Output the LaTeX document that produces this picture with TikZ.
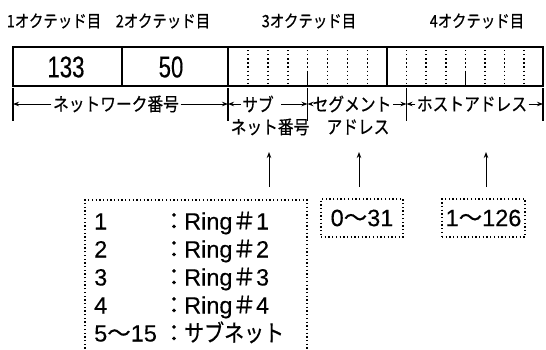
\documentclass[tikz,border=0pt]{standalone}
\usepackage{fontspec}
\setmainfont[FakeBold=0.3]{Liberation Sans}
\newfontfamily\jp[FakeStretch=0.85,FakeBold=0.5]{Noto Sans CJK JP}
\newfontfamily\cj[FakeBold=0.5]{Noto Sans CJK JP}
\newfontfamily\cond[FakeStretch=0.74,FakeBold=0.3]{Liberation Sans}
\usetikzlibrary{arrows.meta}
\begin{document}
\begin{tikzpicture}[x=1pt,y=-1pt,
  oct/.style={font=\jp\fontsize{17}{17}\selectfont, inner sep=0pt},
  num/.style={font=\cond\fontsize{30}{30}\selectfont, inner sep=0pt},
  lab/.style={font=\jp\fontsize{18.5}{18.5}\selectfont, inner sep=1.5pt},
  lt/.style={font=\fontsize{23.5}{23.5}\selectfont, inner sep=0pt},
  ljp/.style={font=\jp\fontsize{23.5}{23.5}\selectfont, inner sep=0pt},
  tip/.style={-{Stealth[length=6pt,width=4.5pt]}, line width=0.9pt},
  frame/.style={line width=1.7pt},
  tick/.style={line width=1.1pt},
  bit/.style={line width=1.3pt, dash pattern=on 1.3pt off 2.8pt},
  dotline/.style={line width=1.3pt, dash pattern=on 1.3pt off 2.4pt},
  dbox/.style={draw, dotline, font=\fontsize{23.5}{23.5}\selectfont, inner sep=0pt}
]
\useasboundingbox (0,0) rectangle (546,349);
% octet headings
\node[oct] (o1) at (54,21) {1オクテッド目};
\node[oct] (o2) at (163,21) {2オクテッド目};
\node[oct] (o3) at (309,21) {3オクテッド目};
\node[oct] (o4) at (477,21) {4オクテッド目};
% address box
\draw[frame] (13,47) rectangle (543,86);
\foreach \x in {122,228,387} \draw[frame] (\x,47) -- (\x,86);
\foreach \x in {248,268,288,327.5,347.5,367.5,406.5,426,446,485,504.5,524} \draw[bit] (\x,50) -- (\x,84);
\foreach \x in {307.5,465.5} {\draw[bit] (\x,50) -- (\x,72); \draw[tick] (\x,72) -- (\x,86);}
\node[num] (n1) at (66,67) {133};
\node[num] (n2) at (171,67) {50};
% ticks below
\foreach \x/\n in {13/a,228/b,307.5/c,406.5/d,543/e} {
  \coordinate (t\n) at (\x,104);
  \draw[tick] (\x,88) -- (\x,121);
}
\node[lab] (net) at (116,104) {ネットワーク番号};
\draw[tip] (net.west) -- (ta);
\draw[tip] (net.east) -- (tb);
\node[lab] (sub1) at (258,104) {サブ};
\draw[tip] (sub1.west) -- (tb);
\draw[tip] ([xshift=6pt]sub1.east) -- (tc);
\node[lab] (sub2) at (270,127) {ネット番号};
\node[lab] (seg1) at (352,104) {セグメント};
\draw[tip] (seg1.west) -- (tc);
\draw[tip] (seg1.east) -- (td);
\node[lab] (seg2) at (358,127) {アドレス};
\node[lab] (host) at (472,104) {ホストアドレス};
\draw[tip] (host.west) -- (td);
\draw[tip] (host.east) -- (te);
% upward arrows
\coordinate (u1s) at (269,187); \coordinate (u1e) at (269,152);
\coordinate (u2s) at (359,187); \coordinate (u2e) at (359,152);
\coordinate (u3s) at (486,187); \coordinate (u3e) at (486,152);
\draw[tip] (u1s) -- (u1e);
\draw[tip] (u2s) -- (u2e);
\draw[tip] (u3s) -- (u3e);
% value boxes
\node[dbox, minimum width=82pt, minimum height=38pt] (b1) at (362,218) {0{\cj ～}31};
\node[dbox, minimum width=83pt, minimum height=38pt] (b2) at (483.5,218) {1{\cj ～}126};
% list box (open at the bottom edge)
\draw[dotline] (85,356) -- (85,200) -- (307,200) -- (307,356);
\foreach \y/\a in {221/1,249/2,277/3,305/4} {
  \node[lt, anchor=base west] (n\a) at (94,\y+8.5) {\a};
  \node[lt, anchor=base] (c\a) at (174,\y+8.5) {\cj ：};
  \node[lt, anchor=base west] (r\a) at (184,\y+8.5) {Ring{\cj ＃}\a};
}
\node[lt, anchor=base west] (n5) at (94,341.5) {5{\cj ～}15};
\node[lt, anchor=base] (c5) at (174,341.5) {\cj ：};
\node[ljp, anchor=base west] (r5) at (184,341.5) {サブネット};
\end{tikzpicture}
\end{document}
